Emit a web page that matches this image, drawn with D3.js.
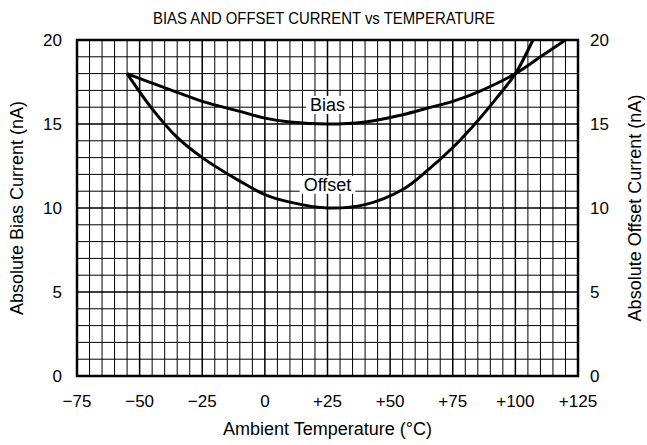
<!DOCTYPE html>
<html>
<head>
<meta charset="utf-8">
<script src="https://cdn.jsdelivr.net/npm/d3@7"></script>
<style>
  body { margin: 0; background: #fff; }
  text { font-family: "Liberation Sans", Arial, sans-serif; fill: #000; }
</style>
</head>
<body>
<script>
"use strict";

// data
var biasTemps = [-55, -45, -35, -25, -10, 0, 10, 25, 40, 55, 65, 75, 85, 100, 110, 120];
var biasValues = [18, 17.43, 16.88, 16.35, 15.75, 15.35, 15.12, 15.0, 15.12, 15.55, 15.95, 16.35, 16.9, 18, 19.0, 20];

var offsetTemps = [-55, -45, -35, -25, -10, 0, 10, 25, 40, 55, 65, 75, 85, 92, 100, 107];
var offsetValues = [18, 15.9, 14.2, 13.0, 11.6, 10.8, 10.35, 10.0, 10.2, 11.1, 12.25, 13.6, 15.2, 16.45, 18, 20];

var xTicks = [-75, -50, -25, 0, 25, 50, 75, 100, 125];
var xTickLabels = ["\u221275", "\u221250", "\u221225", "0", "+25", "+50", "+75", "+100", "+125"];
var yTicks = [0, 5, 10, 15, 20];
var yTickLabels = ["0", "5", "10", "15", "20"];

var curveLabels = ["Bias", "Offset"];
var curveLabelT = [25, 25];
var curveLabelY = [16.15, 11.4];

function init() {
  var w = 647;
  var h = 445;
  var left = 77, right = 578, top = 40, bottom = 376;

  var xScale = d3.scaleLinear()
    .domain([-75, 125])
    .range([left, right]);

  var yScale = d3.scaleLinear()
    .domain([0, 20])
    .range([bottom, top]);

  var svg = d3.select("body")
    .append("svg")
    .attr("width", w)
    .attr("height", h);

  // fine grid: every 5 degC and every 1 nA
  var gridX = d3.range(-75, 126, 5);
  var gridY = d3.range(0, 21, 1);

  svg.append("g")
    .selectAll("line")
    .data(gridX)
    .enter()
    .append("line")
    .attr("x1", function (d) { return xScale(d); })
    .attr("x2", function (d) { return xScale(d); })
    .attr("y1", top)
    .attr("y2", bottom)
    .attr("stroke", "#000")
    .attr("stroke-width", function (d) { return d % 25 === 0 ? 1.5 : 1; });

  svg.append("g")
    .selectAll("line")
    .data(gridY)
    .enter()
    .append("line")
    .attr("x1", left)
    .attr("x2", right)
    .attr("y1", function (d) { return yScale(d); })
    .attr("y2", function (d) { return yScale(d); })
    .attr("stroke", "#000")
    .attr("stroke-width", function (d) { return d % 5 === 0 ? 1.5 : 1; });

  // frame
  svg.append("rect")
    .attr("x", left)
    .attr("y", top)
    .attr("width", right - left)
    .attr("height", bottom - top)
    .attr("fill", "none")
    .attr("stroke", "#000")
    .attr("stroke-width", 2.5);

  var line = d3.line()
    .x(function (d) { return xScale(d[0]); })
    .y(function (d) { return yScale(d[1]); })
    .curve(d3.curveCatmullRom.alpha(0.5));

  svg.append("path")
    .attr("d", line(d3.zip(biasTemps, biasValues)))
    .attr("fill", "none")
    .attr("stroke", "#000")
    .attr("stroke-width", 3);

  svg.append("path")
    .attr("d", line(d3.zip(offsetTemps, offsetValues)))
    .attr("fill", "none")
    .attr("stroke", "#000")
    .attr("stroke-width", 3);

  // curve labels on white boxes
  var lab = svg.selectAll(".curve-label")
    .data(curveLabels)
    .enter()
    .append("g")
    .attr("class", "curve-label")
    .attr("transform", function (d, i) {
      return "translate(" + xScale(curveLabelT[i]) + "," + yScale(curveLabelY[i]) + ")";
    });

  lab.append("text")
    .text(function (d) { return d; })
    .attr("text-anchor", "middle")
    .attr("dy", "0.35em")
    .attr("font-size", "18px");

  lab.each(function () {
    var g = d3.select(this);
    var bb = g.select("text").node().getBBox();
    g.insert("rect", "text")
      .attr("x", bb.x - 4)
      .attr("y", bb.y + 1)
      .attr("width", bb.width + 8)
      .attr("height", bb.height - 2)
      .attr("fill", "#fff");
  });

  // x tick labels
  svg.selectAll(".xtick")
    .data(xTicks)
    .enter()
    .append("text")
    .attr("class", "xtick")
    .text(function (d, i) { return xTickLabels[i]; })
    .attr("x", function (d) { return xScale(d); })
    .attr("y", 407)
    .attr("text-anchor", "middle")
    .attr("font-size", "17px");

  // left and right y tick labels
  svg.selectAll(".ytickl")
    .data(yTicks)
    .enter()
    .append("text")
    .attr("class", "ytickl")
    .text(function (d, i) { return yTickLabels[i]; })
    .attr("x", 62)
    .attr("y", function (d) { return yScale(d); })
    .attr("dy", "0.35em")
    .attr("text-anchor", "end")
    .attr("font-size", "17px");

  svg.selectAll(".ytickr")
    .data(yTicks)
    .enter()
    .append("text")
    .attr("class", "ytickr")
    .text(function (d, i) { return yTickLabels[i]; })
    .attr("x", 590)
    .attr("y", function (d) { return yScale(d); })
    .attr("dy", "0.35em")
    .attr("text-anchor", "start")
    .attr("font-size", "17px");

  // titles
  svg.append("text")
    .text("BIAS AND OFFSET CURRENT vs TEMPERATURE")
    .attr("x", 324)
    .attr("y", 24)
    .attr("text-anchor", "middle")
    .attr("font-size", "16.5px")
    .attr("textLength", 342)
    .attr("lengthAdjust", "spacingAndGlyphs");

  svg.append("text")
    .text("Ambient Temperature (\u00b0C)")
    .attr("x", (left + right) / 2)
    .attr("y", 435)
    .attr("text-anchor", "middle")
    .attr("font-size", "18px");

  svg.append("text")
    .text("Absolute Bias Current (nA)")
    .attr("transform", "translate(23," + (top + bottom) / 2 + ") rotate(-90)")
    .attr("text-anchor", "middle")
    .attr("font-size", "18px");

  svg.append("text")
    .text("Absolute Offset Current (nA)")
    .attr("transform", "translate(641," + (top + bottom) / 2 + ") rotate(-90)")
    .attr("text-anchor", "middle")
    .attr("font-size", "18px");
}

window.onload = init;
</script>
</body>
</html>
